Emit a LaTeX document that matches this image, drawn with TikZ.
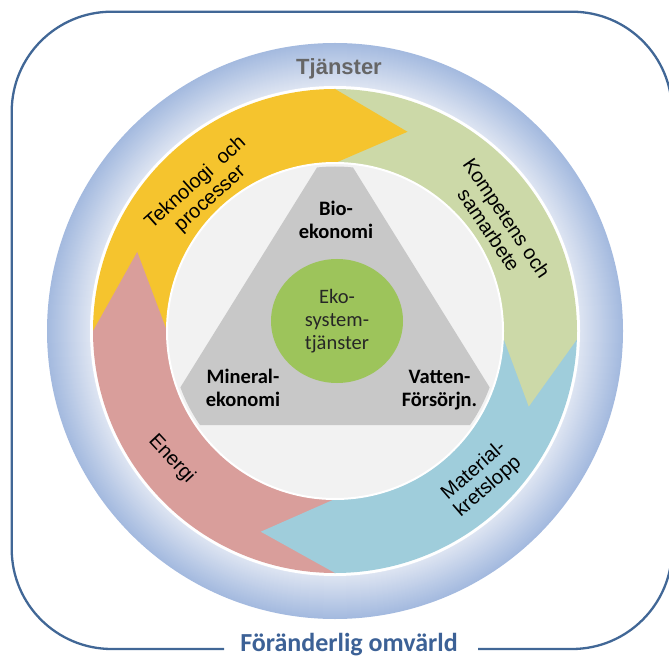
\documentclass[tikz,border=0pt]{standalone}
\usepackage{fontspec}
\setmainfont{Liberation Sans}
\newfontfamily\calfont{Carlito}
\usetikzlibrary{shapes.geometric}
\definecolor{framec}{RGB}{65,103,150}
\definecolor{titlec}{RGB}{60,97,150}
\definecolor{ringin}{RGB}{222,229,242}
\definecolor{ringout}{RGB}{164,186,223}
\definecolor{yel}{RGB}{245,196,46}
\definecolor{grn}{RGB}{204,217,168}
\definecolor{blu}{RGB}{159,205,219}
\definecolor{pnk}{RGB}{217,158,155}
\definecolor{innerc}{RGB}{242,242,242}
\definecolor{trig}{RGB}{200,200,200}
\definecolor{ekog}{RGB}{157,196,91}
\definecolor{tjc}{RGB}{102,102,102}
\tikzset{
  arclabel/.style={font=\fontsize{20}{21.5}\selectfont, align=center, inner sep=0pt},
  trilabel/.style={font=\calfont\bfseries\fontsize{20.5}{23.3}\selectfont, align=center, inner sep=0pt},
}
\begin{document}
\begin{tikzpicture}[x=1pt,y=1pt]
\useasboundingbox (0,0) rectangle (669,657);
\clip (0,0) rectangle (669,657);
\coordinate (C) at (335,326);
% frame
\coordinate (fr1) at (478,8);
\coordinate (fr2) at (224,8);
\draw[framec, line width=2.3pt] (fr1) -- (572,8) arc[start angle=-90,end angle=0,radius=100]
  -- (672,545.3) arc[start angle=0,end angle=90,radius=100]
  -- (111.7,645.3) arc[start angle=90,end angle=180,radius=100]
  -- (11.7,108) arc[start angle=180,end angle=270,radius=100] -- (fr2);
\node[font=\calfont\bfseries\fontsize{26}{30}\selectfont, text=titlec, anchor=base, inner sep=0pt] (omv) at (349,5.6) {Föränderlig omvärld};
% blue ring, radial gradient
\foreach \r in {288,287,...,245}{
  \pgfmathtruncatemacro{\pc}{round((\r-245)/43*100)}
  \fill[ringout!\pc!ringin] (C) circle (\r);
}
\fill[white] (C) circle (245);
\begin{scope}[shift={(C)}]
  % sectors
  \fill[yel] (180:242) arc[start angle=180,end angle=90,radius=242] -- (90:168) arc[start angle=90,end angle=180,radius=168] -- cycle;
  \fill[grn] (90:242) arc[start angle=90,end angle=-2,radius=242] -- (-2:168) arc[start angle=-2,end angle=90,radius=168] -- cycle;
  \fill[blu] (-2:242) arc[start angle=-2,end angle=-90,radius=242] -- (-90:168) arc[start angle=-90,end angle=-2,radius=168] -- cycle;
  \fill[pnk] (-90:242) arc[start angle=-90,end angle=-180,radius=242] -- (-180:168) arc[start angle=-180,end angle=-90,radius=168] -- cycle;
  % heads
  \fill[yel] (91:242) -- (90:242) -- (70:212) -- (90:168) -- (91:168) -- cycle;
  \fill[grn] (-1:242) -- (-2:242) -- (-21.3:208) -- (-2:168) -- (-1:168) -- cycle;
  \fill[blu] (-89:242) -- (-90:242) -- (-110.3:214) -- (-90:168) -- (-89:168) -- cycle;
  \fill[pnk] (181:242) -- (180:242) -- (158.2:213) -- (180:168) -- (181:168) -- cycle;
  % inner disc
  \fill[innerc] (0,0) circle (168);
  \draw[white, line width=2pt] (0,0) circle (168);
  \begin{scope}
    \clip (0,0) circle (164.5);
    \fill[trig] (0,192.5) -- (-178,-94) -- (178,-94) -- cycle;
  \end{scope}
\end{scope}
% labels
\node[font=\bfseries\fontsize{22}{26}\selectfont, text=tjc, anchor=base, inner sep=0pt] (tj) at (339,582.7) {Tjänster};
\node[arclabel, rotate=42] (tek) at (203,466) {Teknologi\ \ och\\processer};
\node[arclabel, rotate=-56] (kom) at (498,433) {Kompetens och\\samarbete};
\node[arclabel, rotate=41] (mat) at (481,178) {Material-\\kretslopp};
\node[arclabel, rotate=-47] (ene) at (171.5,198) {Energi};
\node[trilabel] (bio) at (336,437) {Bio-\\ekonomi};
\node[trilabel] (min) at (243,269) {Mineral-\\ekonomi};
\node[trilabel] (vat) at (439.5,267) {Vatten-\\Försörjn.};
\node[ellipse, fill=ekog, minimum width=132, minimum height=124, inner sep=0pt,
  font=\calfont\fontsize{20.5}{22.8}\selectfont, text=black!85, align=center] (eko) at (337,336) {Eko-\\system-\\tjänster};
\end{tikzpicture}
\end{document}
